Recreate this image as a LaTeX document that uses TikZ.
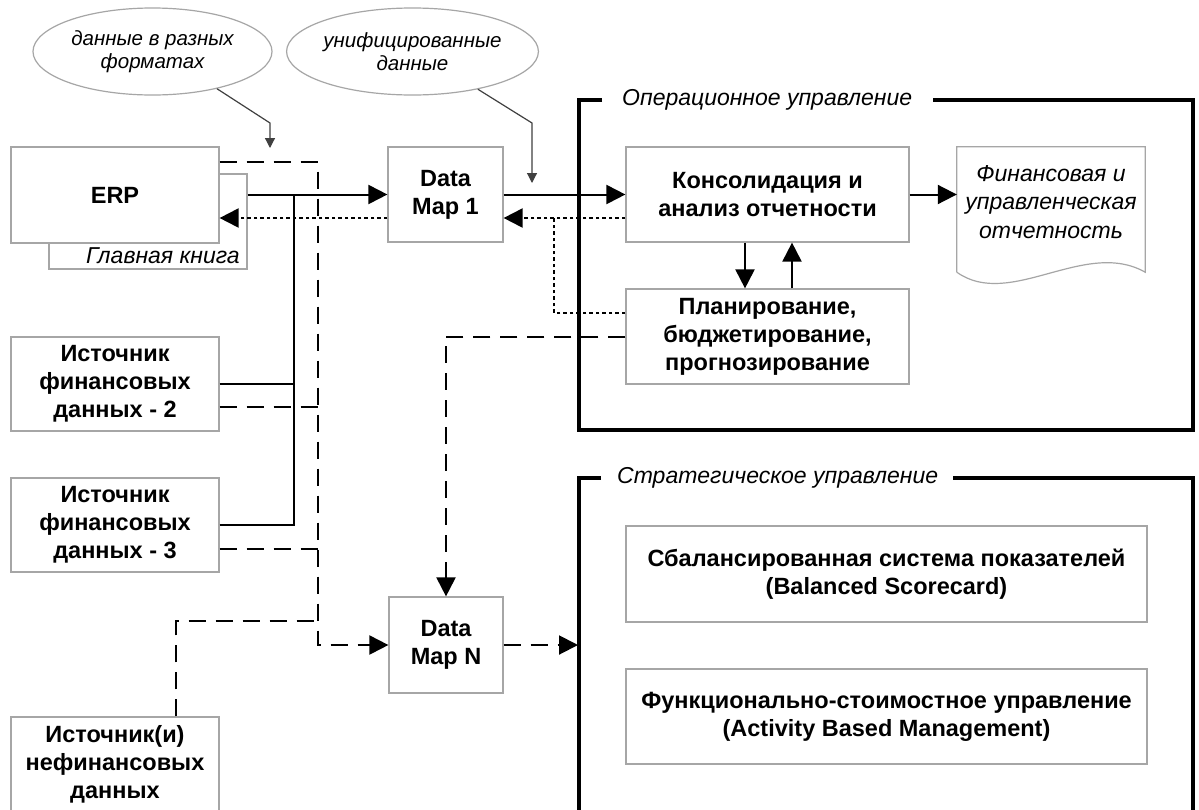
\documentclass[tikz,border=0pt]{standalone}
\usepackage{fontspec}
\setmainfont{Liberation Sans}
\usetikzlibrary{arrows.meta,shapes.geometric,calc}
\begin{document}
\begin{tikzpicture}[x=1pt,y=-1pt,
  box/.style={draw=gray!70, line width=1.2pt, fill=white, align=center, inner sep=0pt,
    font=\fontsize{23.5}{28}\selectfont\bfseries},
  conn/.style={line width=2pt},
  tip/.style={-{Triangle[length=19pt,width=19pt]}},
  dsh/.style={line width=2pt, dash pattern=on 17pt off 10pt},
  dot/.style={line width=2pt, dash pattern=on 3.5pt off 3pt},
  frame/.style={line width=3.5pt},
  lbl/.style={font=\fontsize{23}{28.5}\selectfont\itshape, align=center},
  bubble/.style={ellipse, draw=gray!70, line width=1.2pt, minimum width=239pt, minimum height=87pt,
    inner sep=0pt, align=center, font=\fontsize{20.5}{23}\selectfont\itshape},
  callout/.style={draw=gray!50!black, line width=1.2pt, -{Triangle[length=10pt,width=10pt]}}
]
\fill[white] (0,0) rectangle (1199,809);
\clip (0,0) rectangle (1199,809);

% bubbles
\node[bubble] (e1) at (152.5,51.5) {данные в разных\\форматах};
\node[bubble] (e2) at (412.5,51.5) {унифицированные\\данные};

% left sources
\node[box, minimum width=198pt, minimum height=95pt] (gk) at (148,221.5) {};
\node[lbl, anchor=east, inner sep=0pt] (gkT) at (240,256) {Главная книга};
\node[box, minimum width=208pt, minimum height=96pt] (erp) at (115,195) {ERP};
\node[box, minimum width=208pt, minimum height=94pt] (src2) at (115,384) {Источник\\финансовых\\данных - 2};
\node[box, minimum width=208pt, minimum height=94pt] (src3) at (115,525) {Источник\\финансовых\\данных - 3};
\node[box, minimum width=208pt, minimum height=94pt] (nonfin) at (115,764) {Источник(и)\\нефинансовых\\данных};

% data maps
\node[box, minimum width=115pt, minimum height=95pt] (dm1) at (445.5,194.5) {Data\\Map 1};
\node[box, minimum width=114pt, minimum height=96pt] (dmN) at (446,645) {Data\\Map N};

% operational frame
\node[lbl, anchor=west, inner sep=0pt] (opL) at (622,100) {Операционное управление};
\draw[frame] ([xshift=-20pt]opL.west) -- (579,100) -- (579,430) -- (1193,430) -- (1193,100) -- ([xshift=21pt]opL.east);
\node[box, minimum width=283pt, minimum height=95pt] (kons) at (767.5,194.5) {Консолидация и\\анализ отчетности};
\node[box, minimum width=283pt, minimum height=95pt] (plan) at (767.5,336.5) {Планирование,\\бюджетирование,\\прогнозирование};
\node[minimum width=188pt, minimum height=125pt, inner sep=0pt] (doc) at (1051,209.5) {};
\draw[draw=gray!70, line width=1.2pt] (doc.south west) -- (doc.north west) -- (doc.north east) -- (doc.south east)
  .. controls (1085,238) and (1010,310) .. (doc.south west);
\node[lbl] (docT) at (1051,202) {Финансовая и\\управленческая\\отчетность};

% strategic frame
\node[lbl, anchor=west, inner sep=0pt] (stL) at (617,478) {Стратегическое управление};
\draw[frame] ([xshift=-16pt]stL.west) -- (579,478) -- (579,830);
\draw[frame] (1193,830) -- (1193,478) -- ([xshift=15pt]stL.east);
\node[box, minimum width=521pt, minimum height=96pt] (bsc) at (886.5,574) {Сбалансированная система показателей\\(Balanced Scorecard)};
\node[box, minimum width=521pt, minimum height=95pt] (abm) at (886.5,716.5) {Функционально-стоимостное управление\\(Activity Based Management)};

% coordinates
\coordinate (tj) at (294,194.5);
\coordinate (db) at (318,645);
\coordinate (nfj) at (318,621);
\coordinate (pd) at (554,218);
\coordinate (c1m) at (270,123);
\coordinate (c1) at (270,148);
\coordinate (c2m) at (532,123);
\coordinate (c2) at (532,183);
\coordinate (stIn) at (578,645);

% callouts
\draw[callout] (e1.-30) -- (c1m) -- (c1);
\draw[callout] (e2.-30) -- (c2m) -- (c2);

% solid connectors
\draw[conn,tip] (gk.east |- dm1.west) -- (dm1.west);
\draw[conn] (src3.east) -| (tj);
\draw[conn] (src2.east) -- (src2.east -| tj);
\draw[conn,tip] (dm1.east) -- (kons.west);
\draw[conn,tip] (kons.east) -- (doc.west |- kons.east);
\draw[conn,tip] ([xshift=-22.5pt]kons.south) -- ([xshift=-22.5pt]plan.north);
\draw[conn,tip] ([xshift=24.5pt]plan.north) -- ([xshift=24.5pt]kons.south);

% dotted connectors
\draw[dot,tip] ([yshift=-23.5pt]kons.west) -- ([yshift=-23.5pt]dm1.east);
\draw[dot,tip] ([yshift=-23.5pt]dm1.west) -- ([yshift=-23pt]erp.east);
\draw[dot] ([yshift=23.5pt]plan.west) -| (pd);

% dashed connectors
\draw[dsh,tip] ([yshift=33pt]erp.east) -| (db) -- (dmN.west);
\draw[dsh] ([yshift=-23pt]src2.east) -- ([yshift=-23pt]src2.east -| db);
\draw[dsh] ([yshift=-24pt]src3.east) -- ([yshift=-24pt]src3.east -| db);
\draw[dsh] ([xshift=61pt]nonfin.north) |- (nfj);
\draw[dsh,tip] (plan.west) -| (dmN.north);
\draw[dsh,tip] (dmN.east) -- (stIn);
\end{tikzpicture}
\end{document}
